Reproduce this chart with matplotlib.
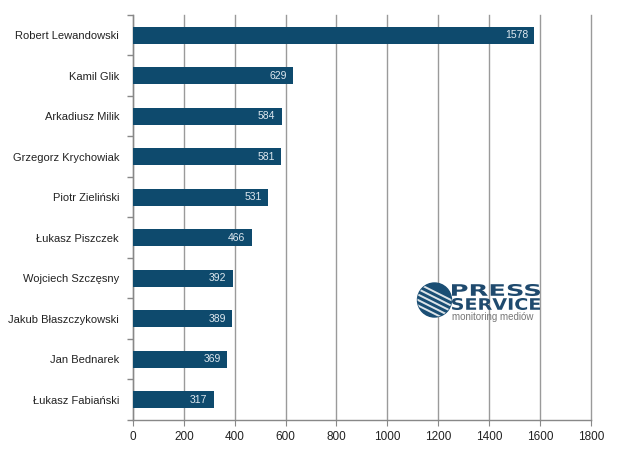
import matplotlib.pyplot as plt
import numpy as np
from matplotlib.patches import Circle, PathPatch
from matplotlib.textpath import TextPath
from matplotlib.font_manager import FontProperties
from matplotlib.transforms import Affine2D

players = ["Robert Lewandowski", "Kamil Glik", "Arkadiusz Milik", "Grzegorz Krychowiak",
           "Piotr Zieliński", "Łukasz Piszczek", "Wojciech Szczęsny", "Jakub Błaszczykowski",
           "Jan Bednarek", "Łukasz Fabiański"]
mentions = [1578, 629, 584, 581, 531, 466, 392, 389, 369, 317]
xticks = [0, 200, 400, 600, 800, 1000, 1200, 1400, 1600, 1800]

plt.rcParams['font.family'] = ['Liberation Sans', 'DejaVu Sans']

fig = plt.figure(figsize=(6.2, 4.49), dpi=100)
ax = fig.add_axes([0.2145, 0.0646, 0.7385, 0.9024])

y = np.arange(len(players))
ax.barh(y, mentions, height=0.42, color="#0e4a6d", zorder=3)
for yi, v in zip(y, mentions):
    ax.text(v - 24, yi, str(v), ha="right", va="center", color="#dfe9f0", fontsize=7.5, zorder=4)

ax.set_ylim(len(players) - 0.5, -0.5)
ax.set_xlim(0, 1800)
ax.set_xticks(xticks)
ax.set_yticks(y)
ax.set_yticklabels(players, fontsize=8, color="#222222")
ax.set_yticks(np.arange(-0.5, len(players), 1), minor=True)
ax.tick_params(axis="y", which="major", length=0, pad=10)
ax.tick_params(axis="y", which="minor", length=4, color="#888888", width=1)
ax.tick_params(axis="x", length=4, color="#888888", labelsize=8.5, labelcolor="#222222", pad=4)
ax.grid(axis="x", color="#9a9a9a", linewidth=1, zorder=0)
for gl in ax.get_xgridlines():
    gl.set_clip_on(False)
for s in ["top", "right"]:
    ax.spines[s].set_visible(False)
for s in ["left", "bottom"]:
    ax.spines[s].set_color("#888888")
    ax.spines[s].set_linewidth(1)

# logo, drawn in a small axes whose units are pixels
lax = fig.add_axes([415 / 620, 1 - 322 / 449, 130 / 620, 42 / 449])
lax.set_xlim(0, 130)
lax.set_ylim(0, 42)
lax.axis("off")
circ = Circle((19.5, 22), 17, color="#1a4e74", zorder=1)
lax.add_patch(circ)
xs = np.linspace(0, 40, 30)
for k in range(5):
    ln, = lax.plot(xs, 40 - k * 5.5 - xs * 0.5, color="white", lw=1.4, alpha=0.85, zorder=2)
    ln.set_clip_path(circ)
bold = FontProperties(family="DejaVu Sans", weight="bold")
for word, y0 in [("PRESS", 26), ("SERVICE", 12)]:
    tp = TextPath((0, 0), word, size=10, prop=bold)
    ext = tp.get_extents()
    tr = (Affine2D().translate(-ext.x0, -ext.y0)
          .scale(88 / ext.width, 12 / ext.height).translate(37, y0))
    lax.add_patch(PathPatch(tr.transform_path(tp), color="#1f4a6e", lw=0, zorder=3))
lax.text(37, 5, "monitoring mediów", fontsize=7, color="#777777", va="center")

fig.savefig("out.png", dpi=100, facecolor="white")
